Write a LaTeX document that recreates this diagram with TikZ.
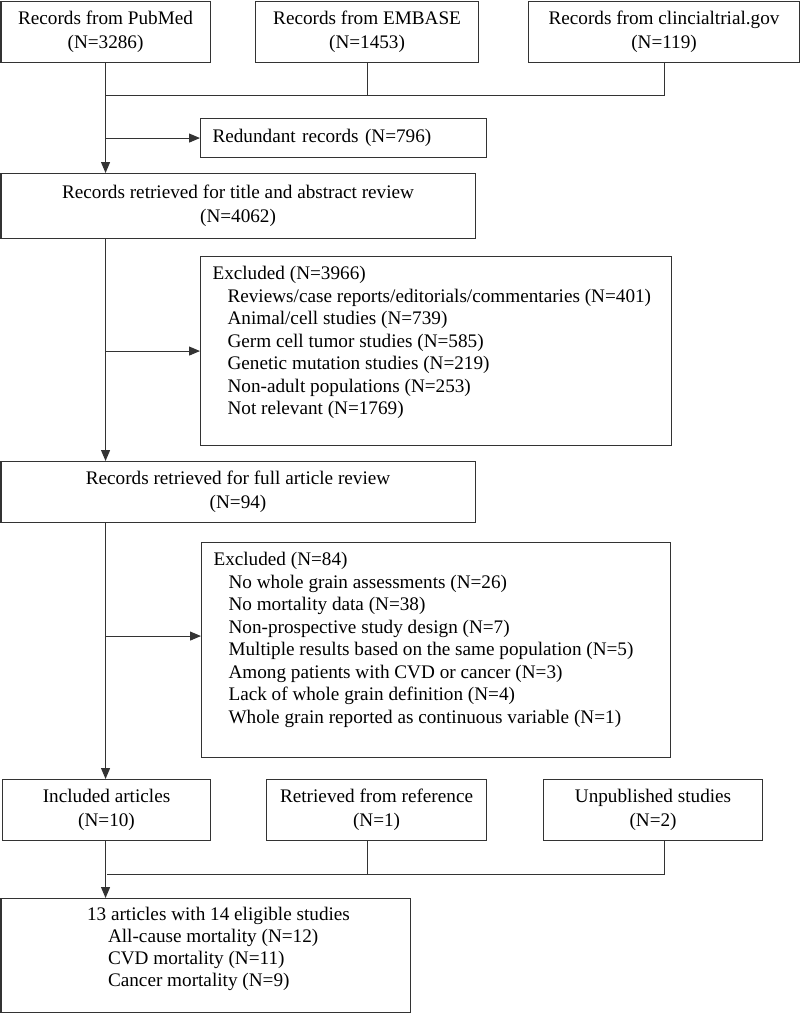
\documentclass[tikz,border=0pt]{standalone}
\usepackage{fontspec}
\setmainfont{Liberation Serif}
\usetikzlibrary{arrows.meta}

\newcommand{\ind}{\hspace*{15pt}}

\begin{document}
\begin{tikzpicture}[x=1pt,y=-1pt]
   \tikzstyle{every node}=[font=\fontsize{19.2}{24}\selectfont, text=black]
   \tikzstyle{box}=[draw=black!80, line width=1.1pt, anchor=north west, align=center, inner sep=0pt]
   \tikzstyle{listbox}=[box, align=left, inner xsep=12pt, inner ysep=0pt]
   \tikzstyle{link}=[draw=black!80, line width=1.1pt]
   \tikzstyle{arrow}=[link, -{Triangle[length=11pt,width=9pt]}]

\useasboundingbox (0,0) rectangle (800,1013);

% sources
\node[box, minimum width=209, minimum height=61] (pubmed) at (0.5,0.5) {Records from PubMed\\(N=3286)};
\node[box, minimum width=223, minimum height=61] (embase) at (255,0.5) {Records from EMBASE\\(N=1453)};
\node[box, minimum width=271, minimum height=61] (ctgov) at (528,0.5) {Records from clincialtrial.gov\\(N=119)};

\node[listbox, text width=262, minimum height=39] (redund) at (200,118) {Redundant records (N=796)};
\node[box, minimum width=474, minimum height=65] (title) at (0.5,173) {Records retrieved for title and abstract review\\(N=4062)};

\node[listbox] (excl1) at (200,256) {\parbox[c][189pt][t]{447pt}{\fontsize{19.2}{22.5}\selectfont\vspace*{10pt}%
   Excluded (N=3966)\\
   \ind Reviews/case reports/editorials/commentaries (N=401)\\
   \ind Animal/cell studies (N=739)\\
   \ind Germ cell tumor studies (N=585)\\
   \ind Genetic mutation studies (N=219)\\
   \ind Non-adult populations (N=253)\\
   \ind Not relevant (N=1769)}};

\node[box, minimum width=474, minimum height=61] (full) at (0.5,461) {Records retrieved for full article review\\(N=94)};

\node[listbox] (excl2) at (201,542) {\parbox[c][215pt][t]{445pt}{\fontsize{19.2}{22.5}\selectfont\vspace*{10pt}%
   Excluded (N=84)\\
   \ind No whole grain assessments (N=26)\\
   \ind No mortality data (N=38)\\
   \ind Non-prospective study design (N=7)\\
   \ind Multiple results based on the same population (N=5)\\
   \ind Among patients with CVD or cancer (N=3)\\
   \ind Lack of whole grain definition (N=4)\\
   \ind Whole grain reported as continuous variable (N=1)}};

% included
\node[box, minimum width=208, minimum height=61] (incl) at (2,779) {Included articles\\(N=10)};
\node[box, minimum width=220, minimum height=61] (refs) at (266,779) {Retrieved from reference\\(N=1)};
\node[box, minimum width=219, minimum height=61] (unpub) at (543,779) {Unpublished studies\\(N=2)};

\node[listbox] (final) at (0.5,898) {\parbox[c][114pt][t]{385pt}{\fontsize{19.2}{22}\selectfont\vspace*{9pt}%
   \hspace*{74pt}13 articles with 14 eligible studies\\
   \hspace*{95pt}All-cause mortality (N=12)\\
   \hspace*{95pt}CVD mortality (N=11)\\
   \hspace*{95pt}Cancer mortality (N=9)}};

% connectors
\coordinate (j1) at ([yshift=-33pt]pubmed.south);
\coordinate (j3) at ([yshift=-33pt]incl.south);
\coordinate (e2) at ([yshift=14pt]excl2.west);

\draw[link] (embase.south) -- (embase.south |- j1);
\draw[link] (ctgov.south) -- (ctgov.south |- j1) -- (j1);
\draw[arrow] (pubmed.south) -- (pubmed.south |- title.north);
\draw[arrow] (pubmed.south |- redund.west) -- (redund.west);

\draw[arrow] (pubmed.south |- title.south) -- (pubmed.south |- full.north);
\draw[arrow] (pubmed.south |- excl1.west) -- (excl1.west);

\draw[arrow] (pubmed.south |- full.south) -- (pubmed.south |- incl.north);
\draw[arrow] (pubmed.south |- e2) -- (e2);

\draw[link] (embase.south |- refs.south) -- (embase.south |- j3);
\draw[link] (ctgov.south |- unpub.south) -- (ctgov.south |- j3) -- (j3);
\draw[arrow] (pubmed.south |- incl.south) -- (pubmed.south |- final.north);

\end{tikzpicture}
\end{document}
